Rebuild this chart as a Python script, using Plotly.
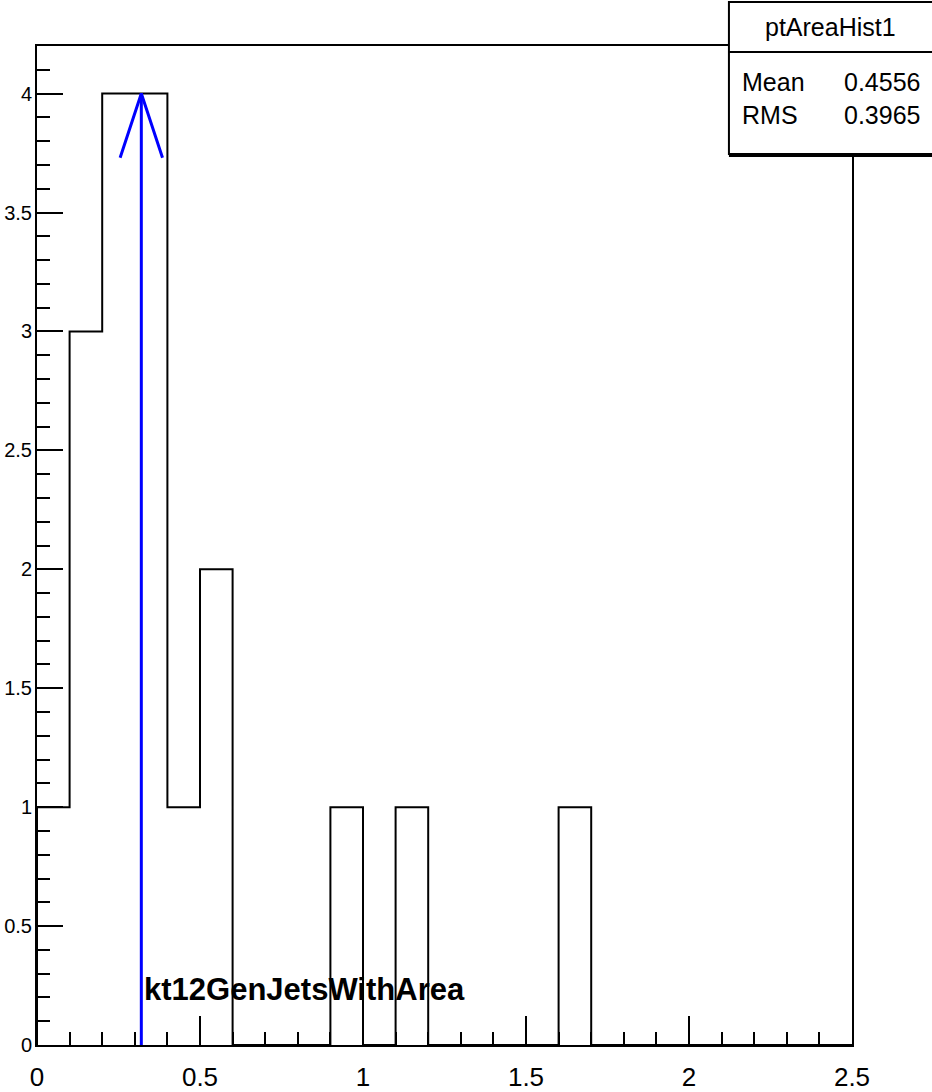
import plotly.graph_objects as go

# Histogram contents: 25 bins of width 0.1 on [0, 2.5]
bin_edges = [round(0.1 * i, 1) for i in range(26)]
bin_counts = [1, 3, 4, 4, 1, 2, 0, 0, 0, 1, 0, 1, 0, 0, 0, 0, 1, 0, 0, 0, 0, 0, 0, 0, 0]

# Arrow marker and its label
arrow_x = 0.32
arrow_base = 0.0
arrow_tip = 4.0
arrow_label = "kt12GenJetsWithArea"

# Statistics box
hist_name = "ptAreaHist1"
stat_names = ["Mean", "RMS"]
stat_values = ["0.4556", "0.3965"]

FONT = "Liberation Sans, Arial, sans-serif"

# Outline of the histogram as a step line starting from zero
step_x = [bin_edges[0]] + bin_edges
step_y = [0] + bin_counts + [0]

fig = go.Figure()
fig.add_trace(go.Scatter(
    x=step_x, y=step_y, mode="lines", line_shape="hv",
    line=dict(color="black", width=2), hoverinfo="skip", showlegend=False,
))

# Arrow shaft and head
head_dx = 0.065
head_dy = 0.27
fig.add_trace(go.Scatter(
    x=[arrow_x, arrow_x], y=[arrow_base, arrow_tip], mode="lines",
    line=dict(color="#0000ff", width=3), showlegend=False, hoverinfo="skip",
))
fig.add_trace(go.Scatter(
    x=[arrow_x - head_dx, arrow_x, arrow_x + head_dx],
    y=[arrow_tip - head_dy, arrow_tip, arrow_tip - head_dy], mode="lines",
    line=dict(color="#0000ff", width=3), showlegend=False, hoverinfo="skip",
))

fig.add_annotation(
    x=arrow_x, y=0.232, xref="x", yref="y", text="<b>" + arrow_label + "</b>",
    showarrow=False, xanchor="left", yanchor="middle", xshift=1,
    font=dict(family=FONT, size=31, color="black"),
)

# Statistics box drawn in paper coordinates
box_x0, box_x1 = 0.849, 1.10
box_y0, box_y1 = 0.892, 1.044
row_split = 0.994
fig.add_shape(type="rect", xref="paper", yref="paper", x0=box_x0, x1=box_x1,
              y0=box_y0, y1=box_y1, fillcolor="white",
              line=dict(color="black", width=2), layer="above")
fig.add_shape(type="line", xref="paper", yref="paper", x0=box_x0, x1=box_x1,
              y0=row_split, y1=row_split, line=dict(color="black", width=2),
              layer="above")
fig.add_shape(type="line", xref="paper", yref="paper", x0=box_x0, x1=box_x1,
              y0=box_y0 - 0.002, y1=box_y0 - 0.002,
              line=dict(color="black", width=2), layer="above")

fig.add_annotation(x=0.974, y=1.019, xref="paper", yref="paper", text=hist_name,
                   showarrow=False, xanchor="center", yanchor="middle",
                   font=dict(family=FONT, size=25, color="black"))
row_y = [0.964, 0.931]
for name, val, yy in zip(stat_names, stat_values, row_y):
    fig.add_annotation(x=0.862, y=yy, xref="paper", yref="paper", text=name,
                       showarrow=False, xanchor="left", yanchor="middle",
                       font=dict(family=FONT, size=25, color="black"))
    fig.add_annotation(x=1.086, y=yy, xref="paper", yref="paper", text=val,
                       showarrow=False, xanchor="right", yanchor="middle",
                       font=dict(family=FONT, size=25, color="black"))

axis_common = dict(
    showgrid=False, zeroline=False, showline=True, linecolor="black",
    linewidth=2, mirror=True, ticks="inside", tickcolor="black", tickwidth=2,
    automargin=False,
)

fig.update_xaxes(
    range=[0, 2.5], dtick=0.5, tick0=0, ticklen=29,
    minor=dict(dtick=0.1, tick0=0, ticklen=13, ticks="inside",
               tickcolor="black", tickwidth=2),
    tickfont=dict(family=FONT, size=26, color="black"),
    ticklabelstandoff=8, **axis_common,
)
fig.update_yaxes(
    range=[0, 4.2], dtick=0.5, tick0=0, ticklen=26,
    minor=dict(dtick=0.1, tick0=0, ticklen=13, ticks="inside",
               tickcolor="black", tickwidth=2),
    tickfont=dict(family=FONT, size=20, color="black"),
    ticklabelstandoff=-1, **axis_common,
)

fig.update_layout(
    width=932, height=1092,
    margin=dict(l=37, r=80, t=46, b=47),
    plot_bgcolor="white", paper_bgcolor="white",
    showlegend=False,
)

fig.write_html("out.html")
